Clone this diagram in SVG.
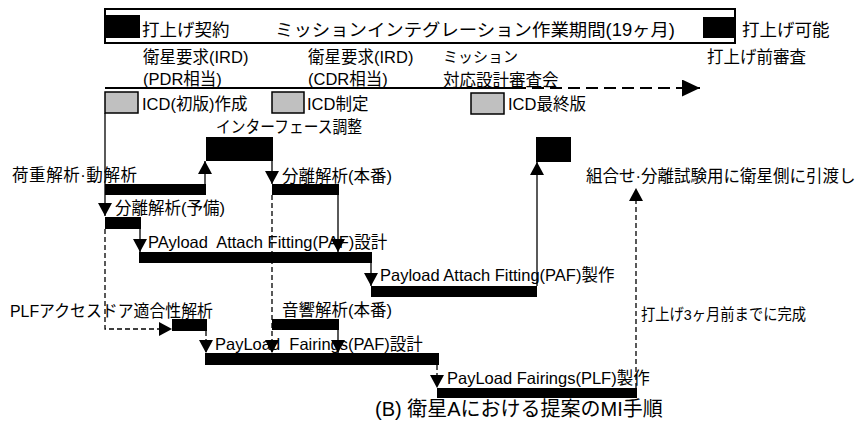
<svg xmlns="http://www.w3.org/2000/svg" width="861" height="421" viewBox="0 0 861 421">
<style>
text { font-family: "Liberation Sans", "Noto Sans CJK JP", sans-serif; font-size: 16.5px; fill: #000; }
.top { font-size: 17.5px; }
.small { font-size: 15px; }
.cap { font-size: 20px; }
.bar { fill: #000; }
.icd { fill: #c0c0c0; stroke: #000; stroke-width: 1.5; }
.ln { stroke: #000; stroke-width: 1.3; fill: none; }
.dash { stroke-dasharray: 5 3; }
.main { stroke: #000; stroke-width: 2; fill: none; }
</style>
<defs>
<marker id="ah" markerUnits="userSpaceOnUse" markerWidth="13" markerHeight="14" refX="13" refY="7" orient="auto">
<path d="M0,0 L13,7 L0,14 Z" fill="#000"/>
</marker>
<marker id="ahBig" markerUnits="userSpaceOnUse" markerWidth="18" markerHeight="17" refX="18" refY="8.5" orient="auto">
<path d="M0,0 L18,8.5 L0,17 Z" fill="#000"/>
</marker>
</defs>
<rect width="861" height="421" fill="#fff"/>

<g id="period">
<rect x="105" y="9" width="630" height="34" fill="#fff" stroke="#000" stroke-width="2"/>
<rect class="bar" x="105" y="15" width="35" height="23"/>
<text class="top" x="142" y="36">打上げ契約</text>
<text class="top" x="275" y="36" textLength="400" lengthAdjust="spacingAndGlyphs">ミッションインテグレーション作業期間(19ヶ月)</text>
<rect class="bar" x="703" y="17" width="32" height="21"/>
<text class="top" x="742" y="36">打上げ可能</text>
</g>

<g id="reviews">
<text x="143" y="63">衛星要求(IRD)</text>
<text x="143" y="85">(PDR相当)</text>
<text x="308" y="63">衛星要求(IRD)</text>
<text x="308" y="85">(CDR相当)</text>
<text class="small" x="443" y="62">ミッション</text>
<text x="443" y="86">対応設計審査会</text>
<text x="707" y="63">打上げ前審査</text>
</g>

<g id="icd1"><rect class="icd" x="105" y="92" width="33" height="21"/><text x="142" y="110">ICD(初版)作成</text></g>
<g id="icd2"><rect class="icd" x="272" y="92" width="32" height="21"/><text x="307" y="110">ICD制定</text></g>
<g id="icd3"><rect class="icd" x="471" y="93" width="33" height="21"/><text x="508" y="110">ICD最終版</text></g>

<g id="load"><text x="12" y="181" textLength="125" lengthAdjust="spacing">荷重解析·動解析</text><rect class="bar" x="105" y="184" width="101" height="11"/></g>
<g id="interface"><text x="216" y="133" textLength="146" lengthAdjust="spacingAndGlyphs">インターフェース調整</text><rect class="bar" x="206" y="137" width="67" height="24"/></g>
<g id="sep-main"><text x="282" y="182">分離解析(本番)</text><rect class="bar" x="272" y="184" width="67" height="11"/></g>
<g id="sep-pre"><text x="115" y="214">分離解析(予備)</text><rect class="bar" x="105" y="217" width="36" height="12"/></g>
<g id="paf-design"><text x="148" y="248" xml:space="preserve">PAyload  Attach Fitting(PAF)設計</text><rect class="bar" x="139" y="252" width="233" height="11"/></g>
<g id="paf-make"><text x="380" y="281">Payload Attach Fitting(PAF)製作</text><rect class="bar" x="371" y="286" width="166" height="11"/></g>
<g id="handover"><rect class="bar" x="536" y="137" width="35" height="25"/><text x="586" y="182">組合せ·分離試験用に衛星側に引渡し</text></g>
<g id="plf-door"><text x="10" y="317" textLength="203" lengthAdjust="spacingAndGlyphs">PLFアクセスドア適合性解析</text><rect class="bar" x="172" y="319" width="35" height="12"/></g>
<g id="acoustic"><text x="282" y="316">音響解析(本番)</text><rect class="bar" x="272" y="319" width="67" height="11"/></g>
<g id="plf-design"><text x="215" y="350" xml:space="preserve">PayLoad  Fairings(PAF)設計</text><rect class="bar" x="205" y="353" width="234" height="12"/></g>
<g id="plf-make"><text x="447" y="384">PayLoad Fairings(PLF)製作</text><rect class="bar" x="437" y="388" width="200" height="10"/></g>
<g id="note"><text x="641" y="320" style="font-size:15.5px" textLength="165" lengthAdjust="spacingAndGlyphs">打上げ3ヶ月前までに完成</text></g>

<g id="connectors">
<line class="main" x1="105" y1="88" x2="514" y2="88"/>
<line class="main" x1="514" y1="88" x2="700" y2="88" stroke-dasharray="12 6" marker-end="url(#ahBig)"/>
<line class="ln" x1="105" y1="113" x2="105" y2="216" marker-end="url(#ah)"/>
<line class="ln" x1="205" y1="184" x2="205" y2="161" marker-end="url(#ah)"/>
<line class="ln" x1="272" y1="161" x2="272" y2="184" marker-end="url(#ah)"/>
<line class="ln" x1="338" y1="195" x2="338" y2="252" marker-end="url(#ah)"/>
<line class="ln dash" x1="272" y1="195" x2="272" y2="353" marker-end="url(#ah)"/>
<line class="ln" x1="140" y1="229" x2="140" y2="252" marker-end="url(#ah)"/>
<line class="ln" x1="371" y1="263" x2="371" y2="286" marker-end="url(#ah)"/>
<line class="ln" x1="537" y1="286" x2="537" y2="162" marker-end="url(#ah)"/>
<line class="ln dash" x1="636" y1="388" x2="636" y2="188" marker-end="url(#ah)"/>
<polyline class="ln dash" points="105,229 105,329 172,329" marker-end="url(#ah)"/>
<line class="ln dash" x1="206" y1="331" x2="206" y2="353" marker-end="url(#ah)"/>
<line class="ln" x1="338" y1="330" x2="338" y2="353" marker-end="url(#ah)"/>
<line class="ln dash" x1="437" y1="365" x2="437" y2="388" marker-end="url(#ah)"/>
</g>

<text class="cap" x="375" y="416">(B) 衛星Aにおける提案のMI手順</text>
</svg>
